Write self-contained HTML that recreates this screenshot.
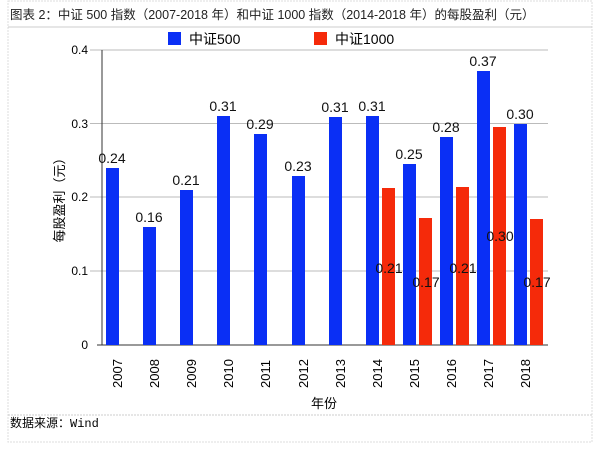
<!DOCTYPE html><html><head><meta charset="utf-8"><style>body{margin:0;background:#fff;width:600px;height:452px;overflow:hidden}</style></head><body>
<svg width="600" height="452" xmlns="http://www.w3.org/2000/svg" font-family="'Liberation Sans','Noto Sans CJK SC',sans-serif">
<rect x="8" y="1" width="584" height="441" fill="#fff" stroke="#ddd" stroke-dasharray="2,1"/>
<line x1="8" y1="27" x2="592" y2="27" stroke="#ccc"/>
<line x1="8" y1="415" x2="592" y2="415" stroke="#ccc" stroke-dasharray="2,1"/>
<text x="10" y="19" font-size="12.5" fill="#222">图表 2：中证 500 指数（2007-2018 年）和中证 1000 指数（2014-2018 年）的每股盈利（元）</text>
<rect x="168" y="32" width="13" height="13" fill="#0a2ff5"/><text x="189" y="44" font-size="14">中证500</text>
<rect x="314" y="32" width="13" height="13" fill="#f52a0a"/><text x="335" y="44" font-size="14">中证1000</text>
<g stroke="#bbb"><line x1="90" y1="50" x2="548" y2="50"/><line x1="90" y1="123.5" x2="548" y2="123.5"/><line x1="90" y1="197" x2="548" y2="197"/><line x1="90" y1="271" x2="548" y2="271"/></g>
<line x1="102" y1="50" x2="102" y2="345" stroke="#333"/><line x1="97" y1="345" x2="548" y2="345" stroke="#333"/>
<g font-size="12" text-anchor="end"><text x="88" y="54">0.4</text><text x="88" y="128">0.3</text><text x="88" y="201">0.2</text><text x="88" y="275">0.1</text><text x="88" y="349">0</text></g>
<text transform="translate(64,197) rotate(-90)" font-size="13" text-anchor="middle">每股盈利（元）</text>
<text x="324" y="408" font-size="13" text-anchor="middle">年份</text>
<text x="10" y="427" font-size="12" font-family="'Liberation Mono','Noto Sans CJK SC',monospace">数据来源：Wind</text>
<g fill="#0a2ff5">
<rect x="106" y="168" width="13" height="177"/><rect x="143" y="227" width="13" height="118"/><rect x="180" y="190" width="13" height="155"/><rect x="217" y="116" width="13" height="229"/><rect x="254" y="134" width="13" height="211"/><rect x="292" y="176" width="13" height="169"/><rect x="329" y="117" width="13" height="228"/><rect x="366" y="116" width="13" height="229"/><rect x="403" y="164" width="13" height="181"/><rect x="440" y="137" width="13" height="208"/><rect x="477" y="71" width="13" height="274"/><rect x="514" y="124" width="13" height="221"/></g>
<g fill="#f52a0a"><rect x="382" y="188" width="13" height="157"/><rect x="419" y="218" width="13" height="127"/><rect x="456" y="187" width="13" height="158"/><rect x="493" y="127" width="13" height="218"/><rect x="530" y="219" width="13" height="126"/></g>
<g font-size="14" text-anchor="middle" fill="#111">
<text x="112" y="163">0.24</text><text x="149" y="222">0.16</text><text x="186" y="185">0.21</text><text x="223" y="111">0.31</text><text x="260" y="129">0.29</text><text x="298" y="171">0.23</text><text x="335" y="112">0.31</text><text x="372" y="111">0.31</text><text x="409" y="159">0.25</text><text x="446" y="132">0.28</text><text x="483" y="66">0.37</text><text x="520" y="119">0.30</text>
<text x="389" y="273">0.21</text><text x="426" y="287">0.17</text><text x="463" y="273">0.21</text><text x="500" y="241">0.30</text><text x="537" y="287">0.17</text></g>
<g font-size="13">
<text transform="translate(122,388) rotate(-90)">2007</text><text transform="translate(159,388) rotate(-90)">2008</text><text transform="translate(196,388) rotate(-90)">2009</text><text transform="translate(233,388) rotate(-90)">2010</text><text transform="translate(270,388) rotate(-90)">2011</text><text transform="translate(308,388) rotate(-90)">2012</text><text transform="translate(345,388) rotate(-90)">2013</text><text transform="translate(382,388) rotate(-90)">2014</text><text transform="translate(419,388) rotate(-90)">2015</text><text transform="translate(456,388) rotate(-90)">2016</text><text transform="translate(493,388) rotate(-90)">2017</text><text transform="translate(530,388) rotate(-90)">2018</text></g>
</svg></body></html>
